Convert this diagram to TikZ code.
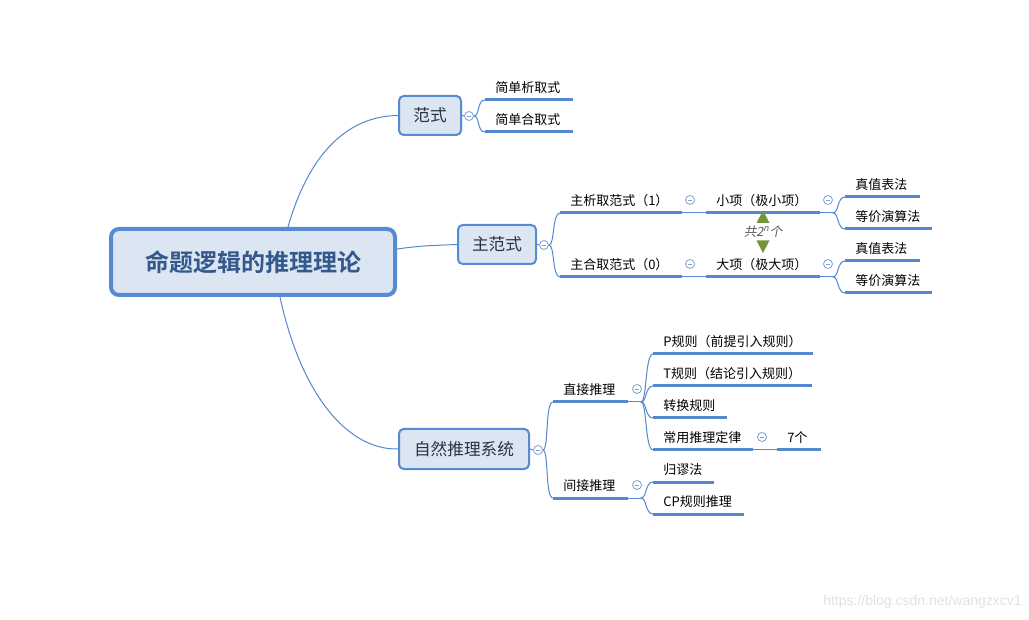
\documentclass[tikz,border=0pt]{standalone}
\usepackage{fontspec}
\setmainfont{Noto Sans CJK SC}[BoldFont={Noto Sans CJK SC Bold}]
\newfontfamily\cjkit{Noto Sans CJK SC}[FakeSlant=0.2]
\newfontfamily\wmfont{Liberation Sans}
\usetikzlibrary{calc}
\definecolor{lineblue}{RGB}{84,136,206}
\definecolor{boxblue}{RGB}{86,139,211}
\definecolor{boxfill}{RGB}{220,230,242}
\definecolor{boxtext}{RGB}{38,52,72}
\definecolor{roottext}{RGB}{52,88,140}
\definecolor{foldcol}{RGB}{125,160,210}
\definecolor{trigreen}{RGB}{119,147,60}
\definecolor{notegray}{RGB}{90,90,90}
\definecolor{wmgray}{RGB}{225,225,225}
\tikzset{
  mmline/.style={draw=lineblue, line width=0.75pt},
  uline/.style={draw=lineblue, line width=2.25pt},
  leaf/.style={anchor=west, inner sep=0pt, text=black, font=\fontsize{9.75pt}{12pt}\selectfont},
  topicbox/.style={draw=boxblue, fill=boxfill, line width=1.5pt, rounded corners=3.5pt,
    text=boxtext, inner sep=0pt, font=\fontsize{12.5pt}{15pt}\selectfont},
  rootbox/.style={draw=boxblue, fill=boxfill, line width=3pt, rounded corners=6pt,
    text=roottext, inner sep=0pt, font=\bfseries\fontsize{18pt}{22pt}\selectfont},
  foldc/.style={circle, draw=foldcol, fill=white, line width=0.6pt, inner sep=0pt, minimum size=6.75pt,
    path picture={\draw[foldcol, line width=0.6pt] ([xshift=-1.8pt]path picture bounding box.center) -- ([xshift=1.8pt]path picture bounding box.center);}},
  tri/.style={fill=trigreen},
}
\newcommand\mmtopic[5]{%
  \coordinate (#1s) at (#2,#4);
  \coordinate (#1e) at (#3,#4);
  \node[leaf] (#1) at (#2+10,#4-12) {#5};
  \draw[uline] (#1s) -- (#1e);
}
\newcommand\mmbr[2]{\draw[mmline] (#1) .. controls ($(#1)+(6,0)$) and ($(#2)+(-8,0)$) .. (#2);}
\begin{document}
\begin{tikzpicture}[x=0.75pt,y=-0.75pt]
\useasboundingbox (0,0) rectangle (1029,620);
% main boxes
\node[rootbox, minimum width=213pt, minimum height=49.5pt] (root) at (253,262) {命题逻辑的推理理论};
\node[topicbox, minimum width=46.5pt, minimum height=29.25pt] (fanshi) at (430,115.5) {范式};
\node[topicbox, minimum width=58.5pt, minimum height=29.25pt] (zhufs) at (497,244.5) {主范式};
\node[topicbox, minimum width=97.5pt, minimum height=30pt] (zrtl) at (464,449) {自然推理系统};
% root connectors
\coordinate (r1) at ([xshift=26.25pt]root.north);
\coordinate (r2) at ([yshift=9.75pt]root.east);
\coordinate (r3) at ([xshift=20.25pt]root.south);
\begin{scope}[on background layer/.style={}]
\end{scope}
\draw[mmline] (r1) .. controls (310,150) and (350,116) .. (fanshi.west);
\draw[mmline] (r2) .. controls (420,246) .. (zhufs.west);
\draw[mmline] (r3) .. controls (300,390) and (345,450) .. (zrtl.west);
% fold circles
\node[foldc] (f1) at (469,116) {};
\node[foldc] (f2) at (544,245) {};
\node[foldc] (f3) at (538,450) {};
\draw[mmline] (fanshi.east) -- (f1.west);
\draw[mmline] (zhufs.east) -- (f2.west);
\draw[mmline] (zrtl.east) -- (f3.west);
% 范式 children
\mmtopic{jx}{485}{573}{100}{简单析取式}
\mmtopic{jh}{485}{573}{132}{简单合取式}
\mmbr{f1.east}{jxs}
\mmbr{f1.east}{jhs}
% 主范式 children
\mmtopic{zx}{560}{682}{213}{主析取范式（1）}
\mmtopic{zh}{560}{682}{277}{主合取范式（0）}
\mmbr{f2.east}{zxs}
\mmbr{f2.east}{zhs}
\mmtopic{xx}{706}{820}{213}{小项（极小项）}
\mmtopic{dx}{706}{820}{277}{大项（极大项）}
\draw[mmline] (zxe) -- (xxs);
\draw[mmline] (zhe) -- (dxs);
\node[foldc] (f4) at (690,200) {};
\node[foldc] (f5) at (690,264) {};
\node[foldc] (f6) at (828,200) {};
\node[foldc] (f7) at (828,264) {};
\coordinate (xxj) at (833,213);
\coordinate (dxj) at (833,277);
\draw[mmline] (xxe) -- (xxj);
\draw[mmline] (dxe) -- (dxj);
\mmtopic{zz1}{845}{920}{197}{真值表法}
\mmtopic{dj1}{845}{932}{229}{等价演算法}
\mmtopic{zz2}{845}{920}{261}{真值表法}
\mmtopic{dj2}{845}{932}{293}{等价演算法}
\mmbr{xxj}{zz1s}
\mmbr{xxj}{dj1s}
\mmbr{dxj}{zz2s}
\mmbr{dxj}{dj2s}
% triangles and note
\fill[tri] (756.5,223) -- (769.5,223) -- (763,210.5) -- cycle;
\fill[tri] (756.5,240.5) -- (769.5,240.5) -- (763,253) -- cycle;
\node[inner sep=0pt, text=notegray, font=\fontsize{9.5pt}{11pt}\selectfont] (gong) at (763,231.5) {\cjkit 共2\textsuperscript{n}个};
% 自然推理系统 children
\mmtopic{zj}{553}{628}{402}{直接推理}
\mmtopic{jj}{553}{628}{498}{间接推理}
\mmbr{f3.east}{zjs}
\mmbr{f3.east}{jjs}
\node[foldc] (f8) at (637,389) {};
\node[foldc] (f9) at (637,485) {};
\coordinate (zjj) at (641,402);
\coordinate (jjj) at (641,498);
\draw[mmline] (zje) -- (zjj);
\draw[mmline] (jje) -- (jjj);
\mmtopic{pg}{653}{813}{354}{P规则（前提引入规则）}
\mmtopic{tg}{653}{812}{386}{T规则（结论引入规则）}
\mmtopic{zhg}{653}{727}{418}{转换规则}
\mmtopic{cy}{653}{753}{450}{常用推理定律}
\mmtopic{qg}{777}{821}{450}{7个}
\draw[mmline] (cye) -- (qgs);
\node[foldc] (f10) at (762,437) {};
\mmbr{zjj}{pgs}
\mmbr{zjj}{tgs}
\mmbr{zjj}{zhgs}
\mmbr{zjj}{cys}
\mmtopic{gm}{653}{714}{482}{归谬法}
\mmtopic{cp}{653}{744}{514}{CP规则推理}
\mmbr{jjj}{gms}
\mmbr{jjj}{cps}
% watermark
\node[anchor=east, inner sep=0pt, text=wmgray, font=\wmfont\fontsize{10.5pt}{12pt}\selectfont] (wm) at (1022,602) {https://blog.csdn.net/wangzxcv1};
\end{tikzpicture}
\end{document}
